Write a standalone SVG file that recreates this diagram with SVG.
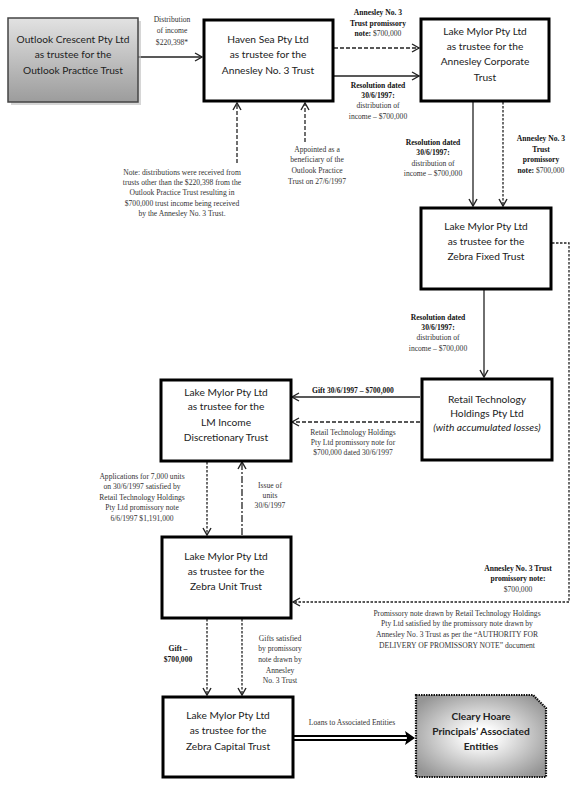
<svg xmlns="http://www.w3.org/2000/svg" width="580" height="788" viewBox="0 0 580 788">
<style>
.box{fill:#fff;stroke:#000;stroke-width:3}
.bt{font-family:Lato,"Open Sans","Liberation Sans",sans-serif;font-size:10.2px;fill:#222;text-anchor:middle}
.lb{font-family:"Liberation Serif","DejaVu Serif",serif;font-size:7.6px;fill:#333;text-anchor:middle}
.b{font-weight:bold;fill:#111}
.ln{fill:none;stroke:#222;stroke-width:1.3}
.da{stroke-dasharray:4 2}
.dt{stroke-dasharray:2.5 1.5}
.dd{stroke-dasharray:7 2 2 2}
</style>
<defs>
<marker id="ah" markerWidth="10" markerHeight="10" refX="8" refY="5" orient="auto" markerUnits="userSpaceOnUse">
<polyline points="1,1 8,5 1,9" fill="none" stroke="#222" stroke-width="1.4"/>
</marker>
<linearGradient id="gray" x1="0" y1="0" x2="0" y2="1">
<stop offset="0" stop-color="#e2e2e2"/>
<stop offset="1" stop-color="#9c9c9c"/>
</linearGradient>
<radialGradient id="rg" cx="0.5" cy="0.5" r="0.62">
<stop offset="0.15" stop-color="#ffffff"/>
<stop offset="1" stop-color="#959595"/>
</radialGradient>
</defs>

<g id="connectors">
<line class="ln" x1="138" y1="57" x2="202" y2="57" marker-end="url(#ah)"/>
<line class="ln da" x1="334" y1="48" x2="419" y2="48" marker-end="url(#ah)"/>
<line class="ln" x1="334" y1="76" x2="419" y2="76" marker-end="url(#ah)"/>
<line class="ln da" x1="237" y1="163" x2="237" y2="103" marker-end="url(#ah)"/>
<line class="ln da" x1="305" y1="142" x2="305" y2="103" marker-end="url(#ah)"/>
<line class="ln" x1="473" y1="102" x2="473" y2="206" marker-end="url(#ah)"/>
<line class="ln dt" x1="503" y1="102" x2="503" y2="206" marker-end="url(#ah)"/>
<path class="ln dt" d="M552,243 H569 V602 H293" marker-end="url(#ah)"/>
<line class="ln" x1="484" y1="290" x2="484" y2="377" marker-end="url(#ah)"/>
<line class="ln" x1="420" y1="397" x2="292" y2="397" marker-end="url(#ah)"/>
<line class="ln da" x1="420" y1="422" x2="292" y2="422" marker-end="url(#ah)"/>
<line class="ln dt" x1="207" y1="462" x2="207" y2="535" marker-end="url(#ah)"/>
<line class="ln dd" x1="242" y1="535" x2="242" y2="462" marker-end="url(#ah)"/>
<line class="ln dt" x1="207" y1="619" x2="207" y2="695" marker-end="url(#ah)"/>
<line class="ln dt" x1="242" y1="619" x2="242" y2="695" marker-end="url(#ah)"/>
<line x1="294" y1="738" x2="410" y2="738" stroke="#000" stroke-width="6"/>
<line x1="294" y1="738" x2="410" y2="738" stroke="#fff" stroke-width="2.2"/>
<polygon points="405,731 415,738 405,745 407,738" fill="#000"/>
</g>

<g id="labels">
<text class="lb"><tspan x="172" y="22">Distribution</tspan><tspan x="172" y="33">of income</tspan><tspan x="172" y="45">$220,398*</tspan></text>
<text class="lb"><tspan x="378" y="15" class="b">Annesley No. 3</tspan><tspan x="378" y="26" class="b">Trust promissory</tspan><tspan x="378" y="36"><tspan class="b">note:</tspan> $700,000</tspan></text>
<text class="lb"><tspan x="378" y="88" class="b">Resolution dated</tspan><tspan x="378" y="98" class="b">30/6/1997:</tspan><tspan x="378" y="108">distribution of</tspan><tspan x="378" y="119">income – $700,000</tspan></text>
<text class="lb"><tspan x="182" y="175">Note: distributions were received from</tspan><tspan x="182" y="185">trusts other than the $220,398 from the</tspan><tspan x="182" y="195">Outlook Practice Trust resulting in</tspan><tspan x="182" y="206">$700,000 trust income being received</tspan><tspan x="182" y="216">by the Annesley No. 3 Trust.</tspan></text>
<text class="lb"><tspan x="317" y="152">Appointed as a</tspan><tspan x="317" y="162">beneficiary of the</tspan><tspan x="317" y="173">Outlook Practice</tspan><tspan x="317" y="184">Trust on 27/6/1997</tspan></text>
<text class="lb"><tspan x="433" y="145" class="b">Resolution dated</tspan><tspan x="433" y="155" class="b">30/6/1997:</tspan><tspan x="433" y="166">distribution of</tspan><tspan x="433" y="176">income – $700,000</tspan></text>
<text class="lb"><tspan x="541" y="141" class="b">Annesley No. 3</tspan><tspan x="541" y="152" class="b">Trust</tspan><tspan x="541" y="162" class="b">promissory</tspan><tspan x="541" y="173"><tspan class="b">note:</tspan> $700,000</tspan></text>
<text class="lb"><tspan x="438" y="320" class="b">Resolution dated</tspan><tspan x="438" y="330" class="b">30/6/1997:</tspan><tspan x="438" y="340">distribution of</tspan><tspan x="438" y="351">income – $700,000</tspan></text>
<text class="lb"><tspan x="353" y="393" class="b">Gift 30/6/1997 – $700,000</tspan></text>
<text class="lb"><tspan x="353" y="435">Retail Technology Holdings</tspan><tspan x="353" y="445">Pty Ltd promissory note for</tspan><tspan x="353" y="455">$700,000 dated 30/6/1997</tspan></text>
<text class="lb"><tspan x="142" y="479">Applications for 7,000 units</tspan><tspan x="142" y="489">on 30/6/1997 satisfied by</tspan><tspan x="142" y="500">Retail Technology Holdings</tspan><tspan x="142" y="510">Pty Ltd promissory note</tspan><tspan x="142" y="521">6/6/1997 $1,191,000</tspan></text>
<text class="lb"><tspan x="270" y="488">Issue of</tspan><tspan x="270" y="498">units</tspan><tspan x="270" y="508">30/6/1997</tspan></text>
<text class="lb"><tspan x="518" y="571" class="b">Annesley No. 3 Trust</tspan><tspan x="518" y="581" class="b">promissory note:</tspan><tspan x="518" y="592">$700,000</tspan></text>
<text class="lb"><tspan x="457" y="616">Promissory note drawn by Retail Technology Holdings</tspan><tspan x="457" y="626">Pty Ltd satisfied by the promissory note drawn by</tspan><tspan x="457" y="637">Annesley No. 3 Trust as per the “AUTHORITY FOR</tspan><tspan x="457" y="648">DELIVERY OF PROMISSORY NOTE” document</tspan></text>
<text class="lb"><tspan x="178" y="651" class="b">Gift –</tspan><tspan x="178" y="662" class="b">$700,000</tspan></text>
<text class="lb"><tspan x="280" y="641">Gifts satisfied</tspan><tspan x="280" y="651">by promissory</tspan><tspan x="280" y="662">note drawn by</tspan><tspan x="280" y="673">Annesley</tspan><tspan x="280" y="683">No. 3 Trust</tspan></text>
<text class="lb"><tspan x="352" y="725">Loans to Associated Entities</tspan></text>
</g>

<g id="outlook">
<rect x="11" y="21" width="130" height="84" fill="#bbb" opacity="0.6"/>
<rect x="8" y="18" width="130" height="84" fill="url(#gray)" stroke="#444" stroke-width="1.5"/>
<text class="bt"><tspan x="73" y="43">Outlook Crescent Pty Ltd</tspan><tspan x="73" y="58">as trustee for the</tspan><tspan x="73" y="74">Outlook Practice Trust</tspan></text>
</g>
<g id="haven-sea">
<rect class="box" x="204" y="20" width="129" height="81"/>
<text class="bt"><tspan x="268" y="43">Haven Sea Pty Ltd</tspan><tspan x="268" y="58">as trustee for the</tspan><tspan x="268" y="74">Annesley No. 3 Trust</tspan></text>
</g>
<g id="annesley-corporate">
<rect class="box" x="421" y="19" width="128" height="82"/>
<text class="bt"><tspan x="485" y="35">Lake Mylor Pty Ltd</tspan><tspan x="485" y="50">as trustee for the</tspan><tspan x="485" y="65">Annesley Corporate</tspan><tspan x="485" y="81">Trust</tspan></text>
</g>
<g id="zebra-fixed">
<rect class="box" x="421" y="208" width="130" height="81"/>
<text class="bt"><tspan x="486" y="230">Lake Mylor Pty Ltd</tspan><tspan x="486" y="245">as trustee for the</tspan><tspan x="486" y="260">Zebra Fixed Trust</tspan></text>
</g>
<g id="retail-technology">
<rect class="box" x="422" y="379" width="130" height="81"/>
<text class="bt"><tspan x="487" y="403">Retail Technology</tspan><tspan x="487" y="417">Holdings Pty Ltd</tspan><tspan x="487" y="431" font-style="italic">(with accumulated losses)</tspan></text>
</g>
<g id="lm-income">
<rect class="box" x="161" y="380" width="130" height="81"/>
<text class="bt"><tspan x="226" y="396">Lake Mylor Pty Ltd</tspan><tspan x="226" y="410">as trustee for the</tspan><tspan x="226" y="426">LM Income</tspan><tspan x="226" y="441">Discretionary Trust</tspan></text>
</g>
<g id="zebra-unit">
<rect class="box" x="162" y="537" width="129" height="81"/>
<text class="bt"><tspan x="226" y="560">Lake Mylor Pty Ltd</tspan><tspan x="226" y="575">as trustee for the</tspan><tspan x="226" y="590">Zebra Unit Trust</tspan></text>
</g>
<g id="zebra-capital">
<rect class="box" x="163" y="697" width="130" height="80"/>
<text class="bt"><tspan x="228" y="719">Lake Mylor Pty Ltd</tspan><tspan x="228" y="734">as trustee for the</tspan><tspan x="228" y="750">Zebra Capital Trust</tspan></text>
</g>
<g id="cleary-hoare">
<path d="M416,695 H533 L546,708 V777 H416 Z" fill="url(#rg)" stroke="#111" stroke-width="2.2" stroke-dasharray="1.5 1"/>
<text class="bt" font-weight="bold" fill="#444"><tspan x="481" y="720">Cleary Hoare</tspan><tspan x="481" y="735">Principals’ Associated</tspan><tspan x="481" y="750">Entities</tspan></text>
</g>
</svg>
